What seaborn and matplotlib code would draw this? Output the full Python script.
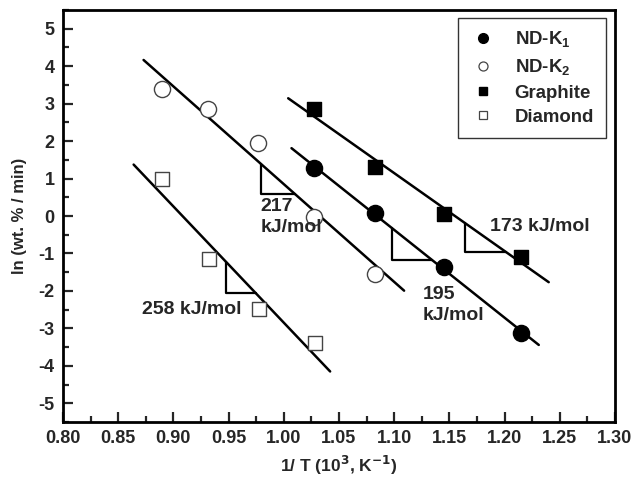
import numpy as np
import pandas as pd
import matplotlib
matplotlib.use("Agg")
import matplotlib.pyplot as plt
from matplotlib.lines import Line2D
from matplotlib.ticker import MultipleLocator, FormatStrFormatter
import seaborn as sns

# Arrhenius data: 1/T (10^3 K^-1) and ln(rate, wt.%/min)
ndk1_x = [1.027, 1.083, 1.145, 1.215]
ndk1_y = [1.28, 0.08, -1.36, -3.12]
ndk2_x = [0.890, 0.931, 0.977, 1.027, 1.083]
ndk2_y = [3.40, 2.87, 1.96, -0.02, -1.55]
graph_x = [1.027, 1.083, 1.145, 1.215]
graph_y = [2.86, 1.31, 0.06, -1.10]
diam_x = [0.890, 0.932, 0.978, 1.028]
diam_y = [0.98, -1.15, -2.49, -3.39]

# activation energies (kJ/mol) written next to each fit
ea_ndk1, ea_ndk2, ea_graph, ea_diam = 195, 217, 173, 258
R = 8.314e-3  # kJ/(mol K)

# x span of each fitted line
span_ndk1 = [1.007, 1.231]
span_ndk2 = [0.873, 1.109]
span_graph = [1.004, 1.240]
span_diam = [0.864, 1.042]

# slope triangles: x of vertical leg, y of horizontal leg
tri_ndk1 = (1.098, -1.18)
tri_ndk2 = (0.979, 0.58)
tri_graph = (1.164, -0.96)
tri_diam = (0.948, -2.06)

sns.set_theme(style="ticks")
plt.rcParams["font.family"] = ["Liberation Sans", "DejaVu Sans"]
plt.rcParams["font.weight"] = "bold"
plt.rcParams["mathtext.default"] = "bf"
plt.rcParams["axes.unicode_minus"] = False

fig = plt.figure(figsize=(6.33, 4.8), dpi=100)
ax = fig.add_axes([0.0995, 0.1208, 0.872, 0.8583])


def fit_line(xs, ys, ea):
    slope = -ea / R / 1000.0
    intercept = np.mean(ys) - slope * np.mean(xs)
    return slope, intercept


series = [
    (ndk1_x, ndk1_y, ea_ndk1, span_ndk1, tri_ndk1, "o", "black", "black", 135),
    (ndk2_x, ndk2_y, ea_ndk2, span_ndk2, tri_ndk2, "o", "white", "#444444", 135),
    (graph_x, graph_y, ea_graph, span_graph, tri_graph, "s", "black", "black", 100),
    (diam_x, diam_y, ea_diam, span_diam, tri_diam, "s", "white", "#444444", 100),
]

for xs, ys, ea, span, tri, mk, fc, ec, size in series:
    slope, icpt = fit_line(xs, ys, ea)
    lx = np.array(span)
    ax.plot(lx, slope * lx + icpt, color="black", lw=1.8, zorder=2)
    # slope triangle under the fit
    tx, ty = tri
    top = slope * tx + icpt
    right = (ty - icpt) / slope
    ax.plot([tx, tx, right], [top, ty, ty], color="black", lw=1.6, zorder=2)
    df = pd.DataFrame({"x": xs, "y": ys})
    sns.scatterplot(data=df, x="x", y="y", ax=ax, marker=mk, s=size,
                    color=fc, edgecolor=ec, linewidth=1.0, zorder=3, legend=False)

fs = 14
ax.text(0.979, -0.03, "217\nkJ/mol", fontsize=fs, fontweight="bold",
        va="center", ha="left", linespacing=1.3)
ax.text(0.872, -2.50, "258 kJ/mol", fontsize=fs, fontweight="bold",
        va="center", ha="left")
ax.text(1.126, -1.88, "195\nkJ/mol", fontsize=fs, fontweight="bold",
        va="top", ha="left", linespacing=1.3)
ax.text(1.187, -0.27, "173 kJ/mol", fontsize=fs, fontweight="bold",
        va="center", ha="left")

ax.set_xlim(0.80, 1.30)
ax.set_ylim(-5.5, 5.5)
ax.xaxis.set_major_locator(MultipleLocator(0.05))
ax.xaxis.set_minor_locator(MultipleLocator(0.025))
ax.yaxis.set_major_locator(MultipleLocator(1))
ax.yaxis.set_minor_locator(MultipleLocator(0.5))
ax.xaxis.set_major_formatter(FormatStrFormatter("%.2f"))
ax.tick_params(which="both", direction="in", width=1.6, labelsize=13,
               top=False, right=False, pad=6)
ax.tick_params(which="major", length=7)
ax.tick_params(which="minor", length=4)
for lab in ax.get_xticklabels() + ax.get_yticklabels():
    lab.set_fontweight("bold")
for sp in ax.spines.values():
    sp.set_visible(True)
    sp.set_linewidth(2.0)
    sp.set_color("black")

ax.set_xlabel(r"1/ T (10$^3$, K$^{-1}$)", fontsize=12.5, fontweight="bold", labelpad=5)
ax.set_ylabel("ln (wt. % / min)", fontsize=12, fontweight="bold", labelpad=8)

handles = [
    Line2D([], [], ls="none", marker="o", ms=7, mfc="black", mec="black"),
    Line2D([], [], ls="none", marker="o", ms=6.5, mfc="white", mec="#444444", mew=0.9),
    Line2D([], [], ls="none", marker="s", ms=6, mfc="black", mec="black"),
    Line2D([], [], ls="none", marker="s", ms=5.5, mfc="white", mec="#444444", mew=0.9),
]
labels = [r"ND-K$_\mathregular{1}$", r"ND-K$_\mathregular{2}$", "Graphite", "Diamond"]
leg = ax.legend(handles, labels, loc="upper right", bbox_to_anchor=(0.984, 0.981),
                borderaxespad=0, frameon=True, fancybox=False,
                prop={"weight": "bold", "size": 13.4}, handletextpad=1.0,
                labelspacing=0.38, borderpad=0.65, handlelength=1.4)
leg.get_frame().set_edgecolor("black")
leg.get_frame().set_linewidth(1.0)

fig.savefig("out.png", dpi=100)
